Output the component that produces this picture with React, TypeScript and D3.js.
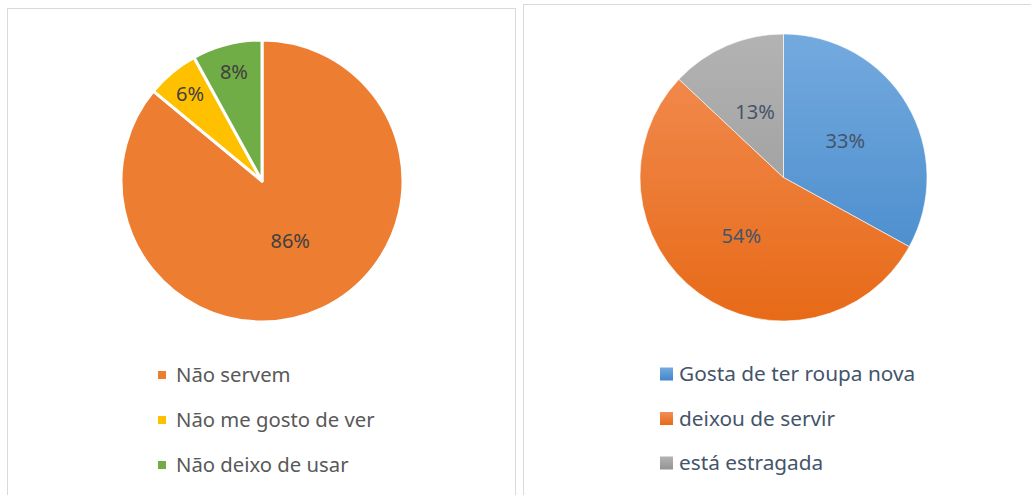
import React, { useEffect, useRef } from "react";
import * as d3 from "d3";

// left chart
const leftCategories = ["Não servem", "Não me gosto de ver", "Não deixo de usar"];
const leftValues = [86, 6, 8];
const leftColors = ["#ED7D31", "#FFC000", "#70AD47"];
const leftLabelRadius = [0.47, 0.8, 0.8];

// right chart
const rightCategories = ["Gosta de ter roupa nova", "deixou de servir", "está estragada"];
const rightValues = [33, 54, 13];
const rightGradients = [
  ["#74aade", "#4186ca"],
  ["#f28e55", "#e76a17"],
  ["#b3b3b3", "#939393"],
];
const rightLabelRadius = [0.5, 0.5, 0.5];

const FONT = "'Noto Sans', 'Open Sans', sans-serif";

const App = () => {
  const ref = useRef<SVGSVGElement | null>(null);

  useEffect(() => {
    const svg = d3.select(ref.current);
    svg.selectAll("*").remove();

    const defs = svg.append("defs");

    // panel frames
    svg.append("rect")
      .attr("x", 7.5).attr("y", 8.5).attr("width", 508).attr("height", 500)
      .attr("fill", "white").attr("stroke", "#d9d9d9");
    svg.append("rect")
      .attr("x", 523.5).attr("y", 4.5).attr("width", 520).attr("height", 500)
      .attr("fill", "white").attr("stroke", "#d9d9d9");

    const pie = d3.pie<number>().sort(null).value(d => d);

    function drawPie(opts: {
      cx: number; cy: number; r: number;
      values: number[]; fills: string[]; labelR: number[];
      stroke: string; strokeWidth: number; labelColor: string;
    }) {
      const g = svg.append("g").attr("transform", `translate(${opts.cx},${opts.cy})`);
      const arcs = pie(opts.values);
      const arc = d3.arc<d3.PieArcDatum<number>>().innerRadius(0).outerRadius(opts.r);
      g.selectAll("path.slice")
        .data(arcs)
        .join("path")
        .attr("class", "slice")
        .attr("d", arc)
        .attr("fill", (d, i) => opts.fills[i])
        .attr("stroke", opts.stroke)
        .attr("stroke-width", opts.strokeWidth)
        .attr("stroke-linejoin", "round");
      g.selectAll("text")
        .data(arcs)
        .join("text")
        .attr("transform", (d, i) => {
          const lr = opts.r * opts.labelR[i];
          const c = d3.arc<d3.PieArcDatum<number>>().innerRadius(lr).outerRadius(lr).centroid(d);
          return `translate(${c[0]},${c[1]})`;
        })
        .attr("text-anchor", "middle")
        .attr("dy", "0.35em")
        .attr("font-family", FONT)
        .attr("font-size", 20)
        .attr("fill", opts.labelColor)
        .text(d => `${d.data}%`);
    }

    function drawLegend(opts: {
      x: number; y0: number; step: number; size: number;
      names: string[]; fills: string[]; color: string; gap: number; fontSize: number;
    }) {
      const y = d3.scalePoint<string>().domain(opts.names).range([opts.y0, opts.y0 + opts.step * (opts.names.length - 1)]);
      const g = svg.append("g");
      const item = g.selectAll("g").data(opts.names).join("g")
        .attr("transform", d => `translate(${opts.x},${y(d)})`);
      item.append("rect")
        .attr("x", 0).attr("y", -opts.size / 2)
        .attr("width", opts.size).attr("height", opts.size)
        .attr("fill", (d, i) => opts.fills[i]);
      item.append("text")
        .attr("x", opts.size + opts.gap)
        .attr("dy", "0.35em")
        .attr("font-family", FONT)
        .attr("font-size", opts.fontSize)
        .attr("fill", opts.color)
        .text(d => d);
    }

    // left pie
    drawPie({
      cx: 262, cy: 181, r: 141,
      values: leftValues, fills: leftColors, labelR: leftLabelRadius,
      stroke: "white", strokeWidth: 3, labelColor: "#404040",
    });
    drawLegend({
      x: 158, y0: 375, step: 45, size: 8,
      names: leftCategories, fills: leftColors, color: "#595959", gap: 10, fontSize: 20.3,
    });

    // right pie with vertical gradients
    const cx2 = 783.5, cy2 = 177.5, r2 = 143.5;
    const pieFills = rightGradients.map((c, i) => {
      const id = `rg${i}`;
      const lg = defs.append("linearGradient").attr("id", id)
        .attr("gradientUnits", "userSpaceOnUse")
        .attr("x1", 0).attr("y1", -r2).attr("x2", 0).attr("y2", r2);
      lg.append("stop").attr("offset", "0%").attr("stop-color", c[0]);
      lg.append("stop").attr("offset", "100%").attr("stop-color", c[1]);
      return `url(#${id})`;
    });
    const legFills = rightGradients.map((c, i) => {
      const id = `lg${i}`;
      const lg = defs.append("linearGradient").attr("id", id)
        .attr("x1", 0).attr("y1", 0).attr("x2", 0).attr("y2", 1);
      lg.append("stop").attr("offset", "0%").attr("stop-color", c[0]);
      lg.append("stop").attr("offset", "100%").attr("stop-color", c[1]);
      return `url(#${id})`;
    });
    drawPie({
      cx: cx2, cy: cy2, r: r2,
      values: rightValues, fills: pieFills, labelR: rightLabelRadius,
      stroke: "white", strokeWidth: 0.6, labelColor: "#44546A",
    });
    drawLegend({
      x: 660, y0: 374, step: 44.5, size: 13,
      names: rightCategories, fills: legFills, color: "#44546A", gap: 6, fontSize: 20.8,
    });
  }, []);

  return (
    <svg
      ref={ref}
      width={1031}
      height={495}
      style={{ position: "absolute", left: 0, top: 0, background: "white" }}
    />
  );
};

export default App;
